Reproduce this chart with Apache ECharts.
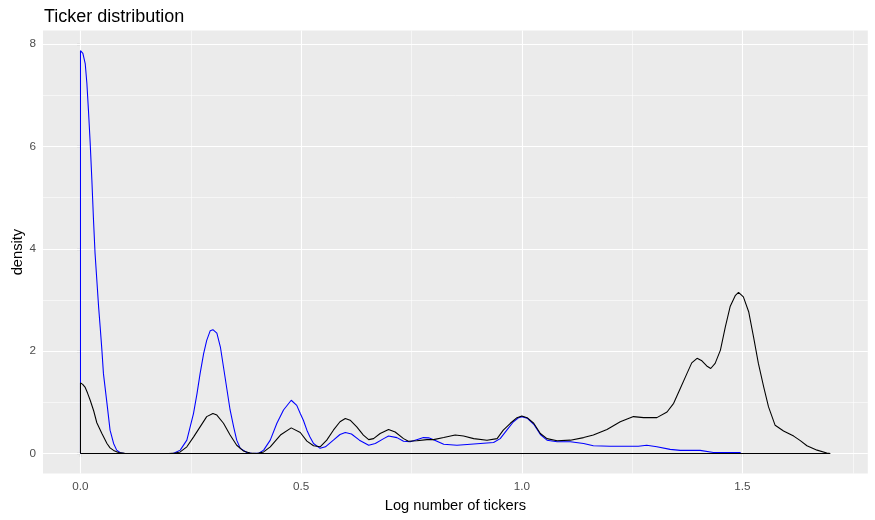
<!DOCTYPE html>
<html>
<head>
<meta charset="utf-8">
<script src="https://cdn.jsdelivr.net/npm/echarts@6/dist/echarts.min.js"></script>
<style>
html,body{margin:0;padding:0;background:#fff;}
#chart{width:875px;height:520px;}
</style>
</head>
<body>
<div id="chart"></div>
<script>
// ---- data ----
var blackX = [0,0.005,0.0107,0.016,0.022,0.03,0.037,0.0485,0.06,0.067,0.075,0.086,0.1,0.12,0.2,0.215,0.226,0.241,0.256,0.271,0.286,0.300,0.309,0.324,0.339,0.354,0.369,0.384,0.40,0.415,0.43,0.453,0.4775,0.498,0.513,0.528,0.543,0.558,0.573,0.588,0.600,0.611,0.626,0.641,0.653,0.664,0.679,0.698,0.713,0.732,0.743,0.762,0.785,0.80,0.823,0.849,0.868,0.891,0.921,0.944,0.958,0.974,0.989,1.0,1.012,1.027,1.042,1.057,1.08,1.11,1.14,1.162,1.193,1.223,1.253,1.276,1.306,1.329,1.344,1.359,1.374,1.385,1.397,1.408,1.419,1.428,1.438,1.45,1.461,1.472,1.484,1.491,1.502,1.514,1.525,1.536,1.548,1.559,1.574,1.593,1.616,1.631,1.646,1.669,1.691,1.699];
var blackY = [1.38,1.35,1.29,1.18,1.04,0.83,0.60,0.39,0.195,0.11,0.06,0.02,0.003,0,0,0.01,0.03,0.13,0.32,0.52,0.72,0.78,0.75,0.59,0.36,0.16,0.05,0.01,0.0,0.03,0.13,0.36,0.50,0.41,0.24,0.15,0.13,0.26,0.455,0.62,0.684,0.65,0.52,0.36,0.27,0.29,0.39,0.47,0.42,0.29,0.24,0.25,0.27,0.27,0.31,0.36,0.34,0.29,0.26,0.29,0.455,0.59,0.70,0.73,0.70,0.59,0.39,0.29,0.25,0.26,0.31,0.36,0.47,0.62,0.72,0.70,0.70,0.81,0.98,1.27,1.56,1.77,1.86,1.81,1.71,1.66,1.76,2.02,2.47,2.87,3.09,3.15,3.06,2.77,2.28,1.76,1.30,0.91,0.55,0.44,0.34,0.25,0.15,0.065,0.01,0];
var blueX = [0,0.0054,0.0107,0.0145,0.018,0.022,0.0258,0.0295,0.033,0.037,0.041,0.0446,0.0485,0.052,0.06,0.067,0.075,0.082,0.09,0.1,0.21,0.226,0.241,0.256,0.264,0.271,0.279,0.286,0.294,0.300,0.309,0.317,0.324,0.332,0.339,0.347,0.354,0.362,0.377,0.39,0.405,0.415,0.43,0.445,0.46,0.4775,0.49,0.498,0.505,0.513,0.52,0.528,0.543,0.555,0.573,0.588,0.600,0.614,0.632,0.653,0.668,0.687,0.698,0.717,0.732,0.747,0.762,0.777,0.789,0.80,0.823,0.853,0.876,0.906,0.936,0.951,0.966,0.981,0.993,1.0,1.012,1.027,1.042,1.057,1.08,1.11,1.14,1.162,1.2,1.264,1.283,1.306,1.336,1.359,1.404,1.434,1.495];
var blueY = [7.87,7.82,7.62,7.23,6.71,6.06,5.34,4.56,3.91,3.39,2.87,2.47,2.02,1.56,0.98,0.455,0.195,0.065,0.015,0,0,0.065,0.26,0.78,1.17,1.56,1.95,2.21,2.40,2.42,2.35,2.08,1.69,1.24,0.85,0.52,0.26,0.10,0.02,0,0.01,0.065,0.26,0.59,0.85,1.04,0.94,0.78,0.65,0.455,0.32,0.195,0.10,0.13,0.26,0.37,0.41,0.38,0.26,0.16,0.195,0.29,0.34,0.31,0.24,0.23,0.27,0.31,0.305,0.27,0.18,0.16,0.175,0.195,0.215,0.29,0.455,0.62,0.70,0.72,0.69,0.57,0.37,0.26,0.23,0.23,0.195,0.15,0.14,0.14,0.16,0.13,0.08,0.06,0.06,0.02,0.02];
var xTickValues = [0, 0.5, 1.0, 1.5];
var xMinorValues = [0.25, 0.75, 1.25, 1.75];
var yTickValues = [0, 2, 4, 6, 8];
var yMinorValues = [1, 3, 5, 7];
var titleText = 'Ticker distribution';
var xTitle = 'Log number of tickers';
var yTitle = 'density';

// density outline as ggplot draws it: vertical edges, optionally closed by the baseline
function outline(xs, ys, closeBase) {
  var pts = [[xs[0], 0]];
  for (var i = 0; i < xs.length; i++) pts.push([xs[i], ys[i]]);
  pts.push([xs[xs.length - 1], 0]);
  if (closeBase) pts.push([xs[0], 0]);
  return pts;
}

// ggplot-style 5% expansion
var xLo = 0, xHi = 1.69897, yLo = 0, yHi = 7.87;
var xPad = (xHi - xLo) * 0.05, yPad = (yHi - yLo) * 0.05;

var gridLines = [];
xTickValues.forEach(function (v) { gridLines.push({ xAxis: v, lineStyle: { width: 1.1 } }); });
xMinorValues.forEach(function (v) { gridLines.push({ xAxis: v, lineStyle: { width: 0.55 } }); });
yTickValues.forEach(function (v) { gridLines.push({ yAxis: v, lineStyle: { width: 1.1 } }); });
yMinorValues.forEach(function (v) { gridLines.push({ yAxis: v, lineStyle: { width: 0.55 } }); });

var font = 'Liberation Sans, Arial, sans-serif';
var chart = echarts.init(document.getElementById('chart'), null, { renderer: 'canvas' });
chart.setOption({
  animation: false,
  backgroundColor: '#ffffff',
  title: {
    text: titleText, left: 39, top: 3,
    textStyle: { fontFamily: font, fontSize: 18, fontWeight: 'normal', color: '#000' }
  },
  grid: { left: 43, right: 7.2, top: 30.6, bottom: 46.4, show: true, backgroundColor: '#EBEBEB', borderWidth: 0,
          containLabel: false, outerBoundsMode: 'none' },
  xAxis: {
    type: 'value', min: xLo - xPad, max: xHi + xPad,
    name: xTitle, nameLocation: 'middle', nameGap: 25,
    nameTextStyle: { fontFamily: font, fontSize: 14.7, color: '#000' },
    axisLine: { show: false },
    splitLine: { show: false },
    axisTick: { show: true, inside: false, length: 4, customValues: xTickValues, lineStyle: { color: '#333', width: 1.1 } },
    axisLabel: { customValues: xTickValues, margin: 7, fontFamily: font, fontSize: 11.7, color: '#4D4D4D',
      formatter: function (v) { return v.toFixed(1); } }
  },
  yAxis: {
    type: 'value', min: yLo - yPad, max: yHi + yPad,
    name: yTitle, nameLocation: 'middle', nameGap: 18, nameRotate: 90, nameMoveOverlap: false,
    nameTextStyle: { fontFamily: font, fontSize: 14.7, color: '#000' },
    axisLine: { show: false },
    splitLine: { show: false },
    axisTick: { show: true, inside: false, length: 4, customValues: yTickValues, lineStyle: { color: '#333', width: 1.1 } },
    axisLabel: { customValues: yTickValues, margin: 7, fontFamily: font, fontSize: 11.7, color: '#4D4D4D',
      formatter: function (v) { return String(Math.round(v)); } }
  },
  series: [
    {
      type: 'line', data: [[0, 0]], symbol: 'none', silent: true, z: 1,
      lineStyle: { opacity: 0 },
      markLine: { z: 1, symbol: 'none', silent: true, animation: false, label: { show: false },
        lineStyle: { color: '#ffffff', type: 'solid', width: 1.1 }, emphasis: { disabled: true },
        data: gridLines }
    },
    {
      name: 'blue', type: 'line', data: outline(blueX, blueY, false), symbol: 'none', z: 10,
      lineStyle: { color: '#0000FF', width: 1.07 }, emphasis: { disabled: true }
    },
    {
      name: 'black', type: 'line', data: outline(blackX, blackY, true), symbol: 'none', z: 11, zlevel: 1,
      lineStyle: { color: '#000000', width: 1.07 }, emphasis: { disabled: true }
    }
  ]
});
</script>
</body>
</html>
